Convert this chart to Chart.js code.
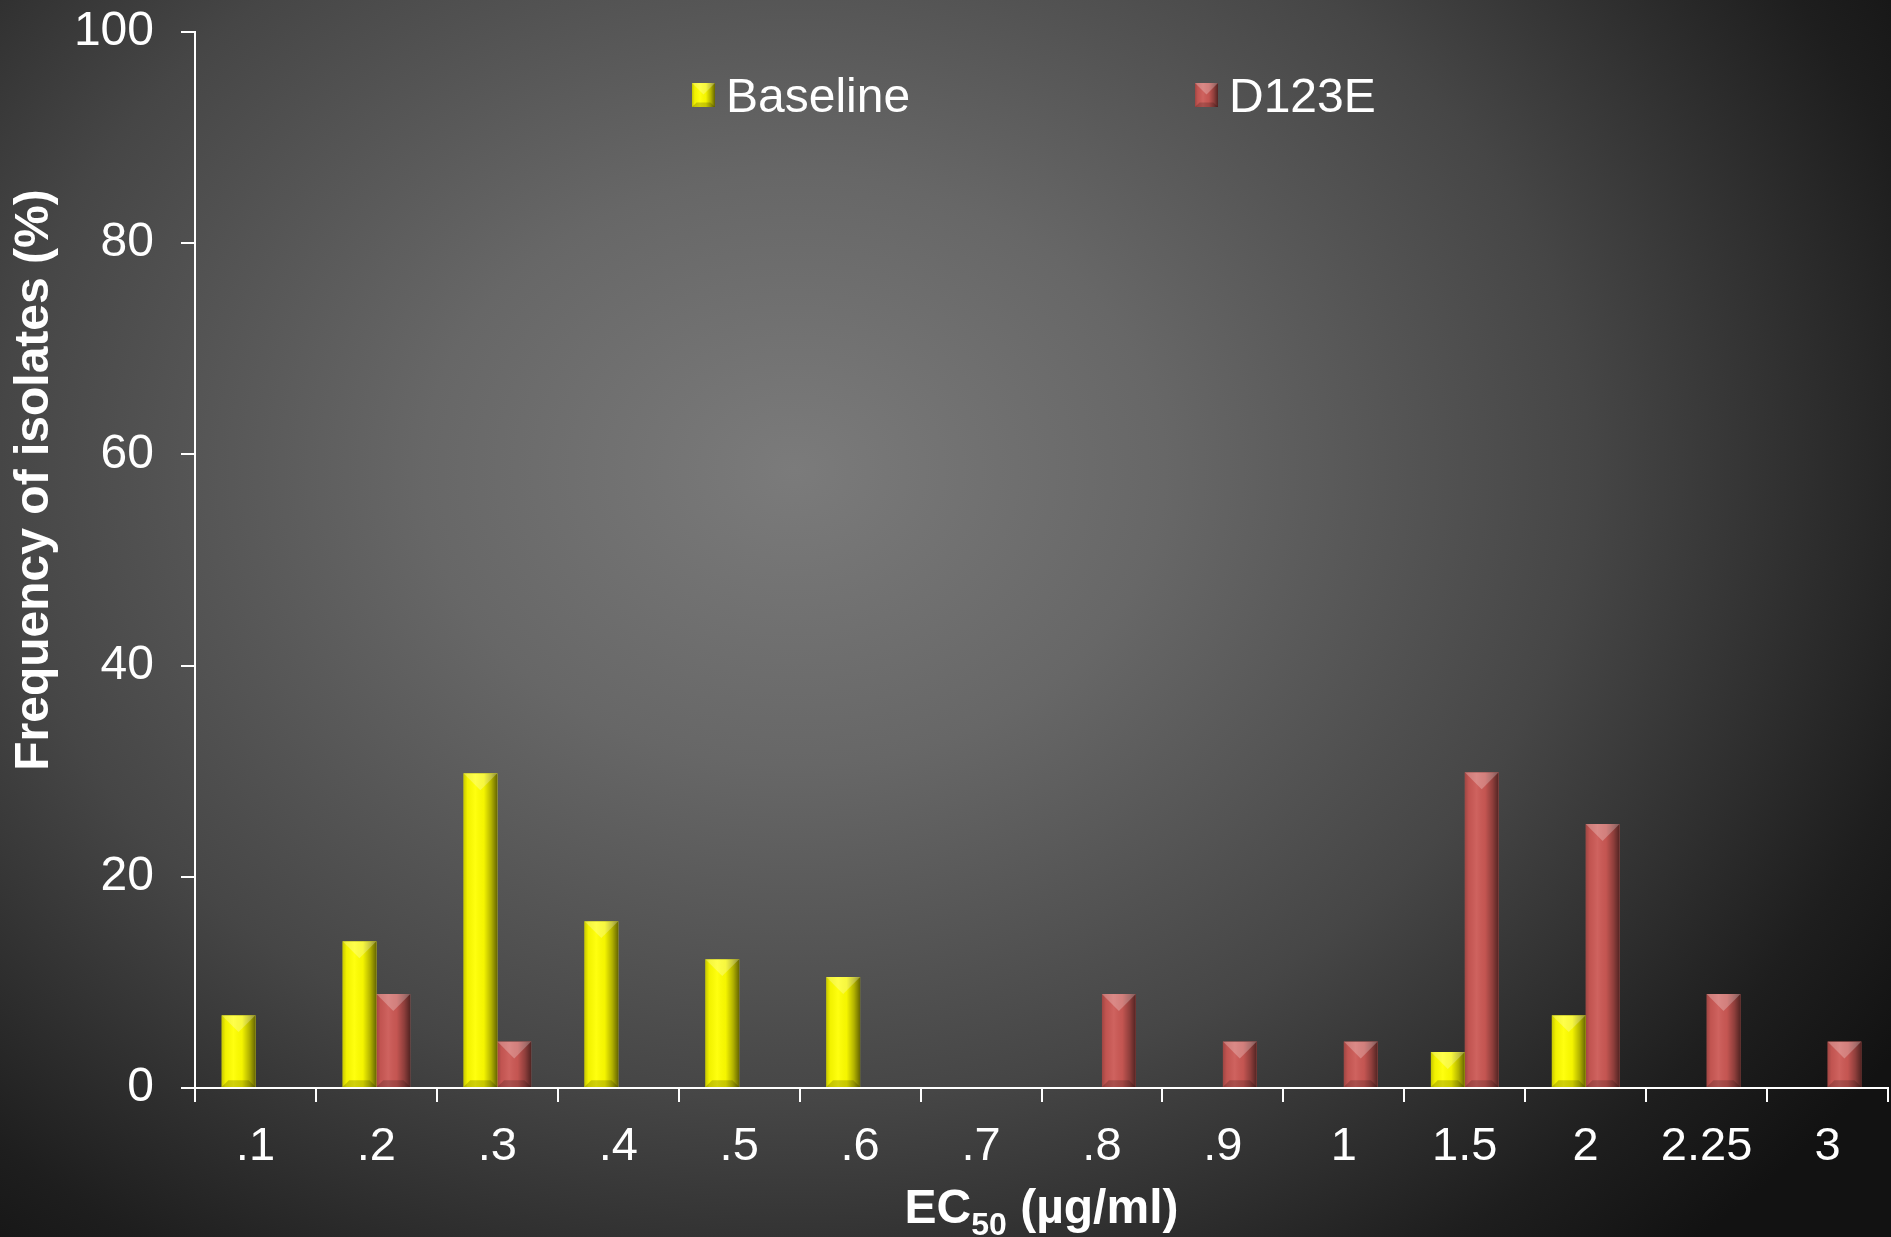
<!doctype html>
<html lang="en">
<head>
<meta charset="utf-8">
<title>EC50 frequency of isolates</title>
<script src="https://cdn.jsdelivr.net/npm/chart.js"></script>
<style>
  html, body { margin: 0; padding: 0; }
  body {
    width: 1891px; height: 1237px; overflow: hidden;
    background: radial-gradient(ellipse 70% 85% at 42% 38%, #7b7b7b 0%, #676767 28%, #464646 60%, #1e1e1e 88%, #121212 100%);
  }
</style>
</head>
<body>
<canvas id="chart1" width="1891" height="1237"></canvas>

<script>
// EC50 classes (ug/ml) and frequency of isolates (%)
const categories = ['.1', '.2', '.3', '.4', '.5', '.6', '.7', '.8', '.9', '1', '1.5', '2', '2.25', '3'];
const baseline = [6.9, 13.9, 29.8, 15.8, 12.2, 10.5, 0, 0, 0, 0, 3.4, 6.9, 0, 0];
const d123e = [0, 8.9, 4.4, 0, 0, 0, 0, 8.9, 4.4, 4.4, 29.9, 25.0, 8.9, 4.4];
const yTicks = [0, 20, 40, 60, 80, 100];

const FONT = "'Liberation Sans', Arial, sans-serif";
const YELLOW = '#ffff00';
const RED = '#cc5955';

// rounded/bevelled look on a bar, using the positions the library gave it
function bevel(ctx, left, top, right, bottom) {
  const w = right - left;
  const h = bottom - top;
  if (h <= 0.5) return;
  ctx.save();
  ctx.beginPath();
  ctx.rect(left, top, w, h);
  ctx.clip();
  // horizontal shading
  const g = ctx.createLinearGradient(left, 0, right, 0);
  g.addColorStop(0, 'rgba(0,0,0,0.22)');
  g.addColorStop(0.12, 'rgba(0,0,0,0.05)');
  g.addColorStop(0.35, 'rgba(255,255,255,0.06)');
  g.addColorStop(0.6, 'rgba(0,0,0,0.04)');
  g.addColorStop(0.82, 'rgba(0,0,0,0.3)');
  g.addColorStop(1, 'rgba(0,0,0,0.6)');
  ctx.fillStyle = g;
  ctx.fillRect(left, top, w, h);
  // top chevron light
  ctx.fillStyle = 'rgba(255,255,255,0.25)';
  ctx.beginPath();
  ctx.moveTo(left, top); ctx.lineTo(right, top); ctx.lineTo(left + w / 2, top + w * 0.5);
  ctx.fill();
  // bottom band dark
  const e = w * 0.2;
  ctx.fillStyle = 'rgba(0,0,0,0.18)';
  ctx.beginPath();
  ctx.moveTo(left, bottom); ctx.lineTo(left + e, bottom - e); ctx.lineTo(right - e, bottom - e); ctx.lineTo(right, bottom);
  ctx.fill();
  ctx.restore();
}

const bevelPlugin = {
  id: 'bevel',
  afterDatasetsDraw(chart) {
    const ctx = chart.ctx;
    chart.data.datasets.forEach((ds, i) => {
      chart.getDatasetMeta(i).data.forEach(bar => {
        const p = bar.getProps(['x', 'y', 'base', 'width'], true);
        bevel(ctx, p.x - p.width / 2, Math.min(p.y, p.base), p.x + p.width / 2, Math.max(p.y, p.base));
      });
    });
  }
};

// axis titles (with subscript) and the floating legend
const textPlugin = {
  id: 'texts',
  afterDraw(chart) {
    const ctx = chart.ctx;
    const area = chart.chartArea;
    ctx.save();
    ctx.fillStyle = '#fff';

    // y title
    ctx.save();
    ctx.translate(48, 480);
    ctx.rotate(-Math.PI / 2);
    ctx.font = 'bold 48px ' + FONT;
    ctx.textAlign = 'center';
    ctx.textBaseline = 'alphabetic';
    ctx.fillText('Frequency of isolates (%)', 0, 0);
    ctx.restore();

    // x title: EC50 (µg/ml)
    const big = 'bold 48px ' + FONT;
    const small = 'bold 32px ' + FONT;
    ctx.textBaseline = 'alphabetic';
    ctx.textAlign = 'left';
    ctx.font = big;
    const w1 = ctx.measureText('EC').width;
    const w3 = ctx.measureText(' (µg/ml)').width;
    ctx.font = small;
    const w2 = ctx.measureText('50').width;
    const cx = (area.left + area.right) / 2;
    let x = cx - (w1 + w2 + w3) / 2;
    const by = 1223;
    ctx.font = big;
    ctx.fillText('EC', x, by);
    x += w1;
    ctx.font = small;
    ctx.fillText('50', x, by + 12);
    x += w2;
    ctx.font = big;
    ctx.fillText(' (µg/ml)', x, by);

    // legend
    const spots = [692, 1195];
    ctx.font = '48px ' + FONT;
    chart.data.datasets.forEach((ds, i) => {
      const lx = spots[i];
      ctx.fillStyle = ds.backgroundColor;
      ctx.fillRect(lx, 83, 23, 24);
      bevel(ctx, lx, 83, lx + 23, 107);
      ctx.fillStyle = '#fff';
      ctx.fillText(ds.label, lx + 34, 112);
    });
    ctx.restore();
  }
};

new Chart(document.getElementById('chart1'), {
  type: 'bar',
  data: {
    labels: categories,
    datasets: [
      { label: 'Baseline', data: baseline, backgroundColor: YELLOW, borderWidth: 0 },
      { label: 'D123E', data: d123e, backgroundColor: RED, borderWidth: 0 }
    ]
  },
  options: {
    responsive: false,
    animation: false,
    layout: { padding: { top: 32, right: 3, left: 0, bottom: 0 } },
    datasets: { bar: { barPercentage: 1, categoryPercentage: 0.56 } },
    plugins: { legend: { display: false }, tooltip: { enabled: false } },
    scales: {
      x: {
        grid: { drawOnChartArea: false, color: '#fff', lineWidth: 2, tickLength: 14, offset: true },
        border: { color: '#fff', width: 2 },
        ticks: { color: '#fff', font: { family: FONT, size: 47 }, padding: 17, maxRotation: 0, autoSkip: false },
        afterFit(scale) { scale.height = 149; scale.paddingLeft = 0; scale.paddingRight = 0; }
      },
      y: {
        min: 0,
        max: 100,
        afterBuildTicks(scale) { scale.ticks = yTicks.map(v => ({ value: v })); },
        grid: { drawOnChartArea: false, color: '#fff', lineWidth: 2, tickLength: 14 },
        border: { color: '#fff', width: 2 },
        ticks: { color: '#fff', font: { family: FONT, size: 48 }, padding: 27 },
        afterFit(scale) { scale.width = 195; scale.paddingTop = 0; scale.paddingBottom = 0; }
      }
    }
  },
  plugins: [bevelPlugin, textPlugin]
});
</script>
</body>
</html>
